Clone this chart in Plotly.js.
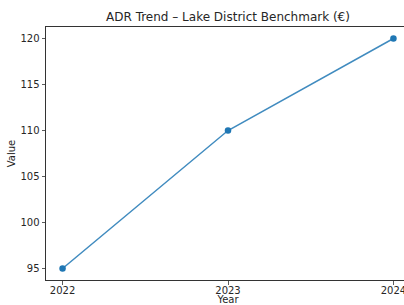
<!DOCTYPE html>
<html>
<head>
<meta charset="utf-8">
<script src="https://cdn.plot.ly/plotly-3.0.1.min.js"></script>
<style>
html, body { margin: 0; padding: 0; overflow: hidden; background: #fff; }
#chart { width: 410px; height: 305px; }
</style>
</head>
<body>
<div id="chart"></div>
<script>
const years = [2022, 2023, 2024];
const adrValues = [95, 110, 120];
const yTicks = [95, 100, 105, 110, 115, 120];

const font = 'DejaVu Sans, sans-serif';

const trace = {
  x: years,
  y: adrValues,
  type: 'scatter',
  mode: 'lines+markers',
  line: { color: 'rgba(31,119,180,0.85)', width: 1.5 },
  marker: { color: '#1f77b4', size: 6.5 },
  hoverinfo: 'x+y'
};

const layout = {
  width: 410,
  height: 305,
  margin: { l: 46, r: 0, t: 27, b: 25 },
  paper_bgcolor: '#fff',
  plot_bgcolor: '#fff',
  showlegend: false,
  title: {
    text: 'ADR Trend – Lake District Benchmark (€)',
    font: { family: font, size: 12, color: '#262626' },
    x: 0.5, xref: 'paper', xanchor: 'center',
    y: 1 - 17 / 305, yref: 'container', yanchor: 'middle'
  },
  xaxis: {
    range: [2021.9, 2024.1],
    tickvals: years,
    ticktext: years.map(String),
    showgrid: false, zeroline: false,
    showline: true, linecolor: '#333', linewidth: 1, mirror: true,
    ticks: 'outside', ticklen: 3.5, tickwidth: 0.8, tickcolor: '#333',
    ticklabelstandoff: -3,
    tickfont: { family: font, size: 10, color: '#262626' },
    title: { text: 'Year', font: { family: font, size: 10, color: '#262626' }, standoff: 9 }
  },
  yaxis: {
    range: [93.75, 121.25],
    tickvals: yTicks,
    showgrid: false, zeroline: false,
    showline: true, linecolor: '#333', linewidth: 1, mirror: true,
    ticks: 'outside', ticklen: 3.5, tickwidth: 0.8, tickcolor: '#333',
    tickfont: { family: font, size: 10, color: '#262626' },
    title: { text: 'Value', font: { family: font, size: 10, color: '#262626' }, standoff: 2 }
  }
};

Plotly.newPlot('chart', [trace], layout, { displayModeBar: false, staticPlot: true });
</script>
</body>
</html>
